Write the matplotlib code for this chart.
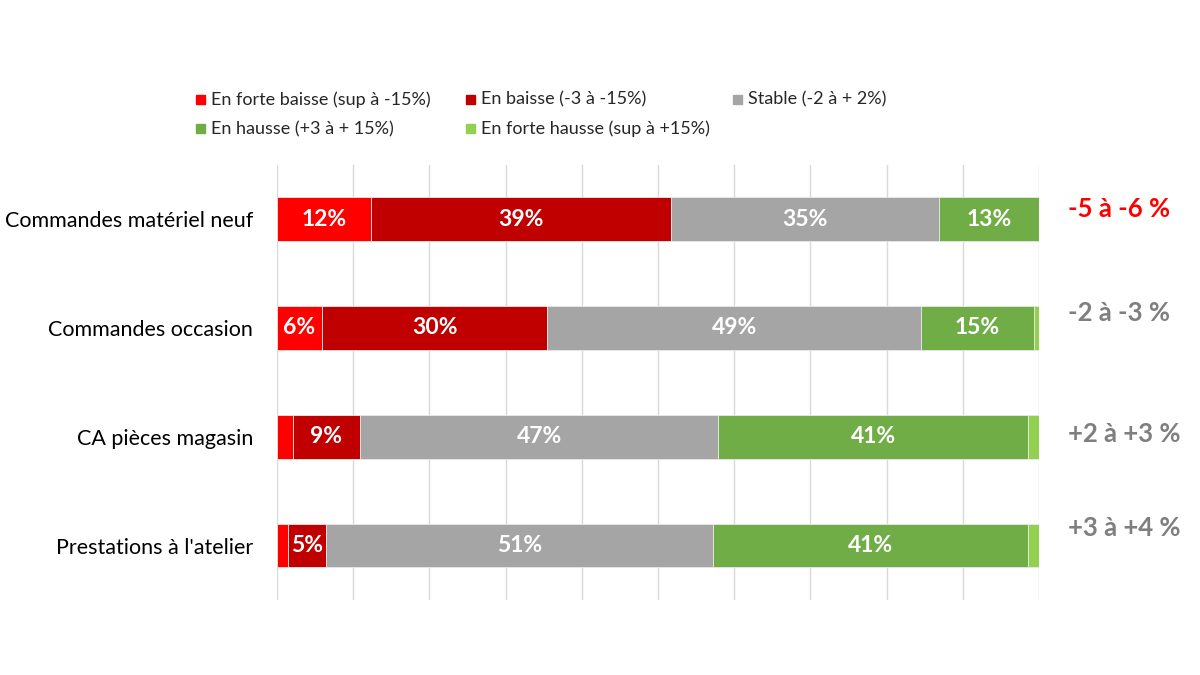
import matplotlib
matplotlib.use("Agg")
import matplotlib.pyplot as plt
from matplotlib.patches import Rectangle
import numpy as np

plt.rcParams['font.family'] = ['Lato', 'DejaVu Sans']

# ---------- data ----------
categories = ["Commandes matériel neuf", "Commandes occasion",
              "CA pièces magasin", "Prestations à l'atelier"]
series = ["En forte baisse (sup à -15%)", "En baisse (-3 à -15%)", "Stable (-2 à + 2%)",
          "En hausse (+3 à + 15%)", "En forte hausse (sup à +15%)"]
forte_baisse = [12.4, 5.9, 2.1, 1.4]
baisse = [39.3, 29.6, 8.8, 5.0]
stable = [35.2, 49.0, 47.0, 50.8]
hausse = [13.1, 14.8, 40.7, 41.4]
forte_hausse = [0.0, 0.7, 1.4, 1.4]
tendances = ["-5 à -6 %", "-2 à -3 %", "+2 à +3 %", "+3 à +4 %"]
tendance_colors = ["#FF0000", "#7F7F7F", "#7F7F7F", "#7F7F7F"]

colors = ["#FF0000", "#C00000", "#A5A5A5", "#70AD47", "#92D050"]

# ---------- figure ----------
fig = plt.figure(figsize=(12, 6.75), dpi=100, facecolor="white")
ax = fig.add_axes([0.2308, 0.111, 0.635, 0.645])

y = np.arange(len(categories))
left = np.zeros(len(categories))
for name, vals, col in zip(series, [forte_baisse, baisse, stable, hausse, forte_hausse], colors):
    vals = np.array(vals)
    ax.barh(y, vals, left=left, height=0.4, color=col, edgecolor="#E8E8E8",
            linewidth=0.6, label=name, zorder=3)
    for yi, l, v in zip(y, left, vals):
        if v >= 4:
            ax.text(l + v / 2, yi, f"{v:.0f}%", ha="center", va="center",
                    color="white", fontsize=16.5, fontweight="bold", zorder=4)
    left += vals

ax.set_xlim(0, 100)
ax.set_ylim(len(categories) - 0.5, -0.5)
ax.set_xticks(np.arange(0, 101, 10))
ax.set_xticklabels([])
ax.tick_params(axis="x", length=0)
ax.tick_params(axis="y", length=0, pad=17)
ax.set_yticks(y)
ax.set_yticklabels(categories, fontsize=15.5, color="#000000")
ax.grid(axis="x", color="#D9D9D9", linewidth=1, zorder=0)
for s in ax.spines.values():
    s.set_visible(False)

# trend annotations on the right (slightly above bar centre, as in the source)
nudge = [-0.09, -0.14, -0.03, -0.16]
for yi, txt, col, dy in zip(y, tendances, tendance_colors, nudge):
    ax.text(103.8, yi + dy, txt, ha="left", va="center", color=col,
            fontsize=18.5, fontweight="bold", clip_on=False)

# legend drawn by hand: fixed column widths, row-wise order like Excel
leg_x = [0.163, 0.388, 0.611]
leg_y = [0.853, 0.809]
sq_w, sq_h = 9 / 1200, 9 / 675
for i, (name, col) in enumerate(zip(series, colors)):
    x0, y0 = leg_x[i % 3], leg_y[i // 3]
    fig.add_artist(Rectangle((x0, y0 - sq_h / 2), sq_w, sq_h, color=col,
                             transform=fig.transFigure))
    fig.text(x0 + sq_w + 0.005, y0, name, ha="left", va="center", fontsize=13,
             color="#262626")

fig.savefig("out.png", dpi=100, facecolor="white")
